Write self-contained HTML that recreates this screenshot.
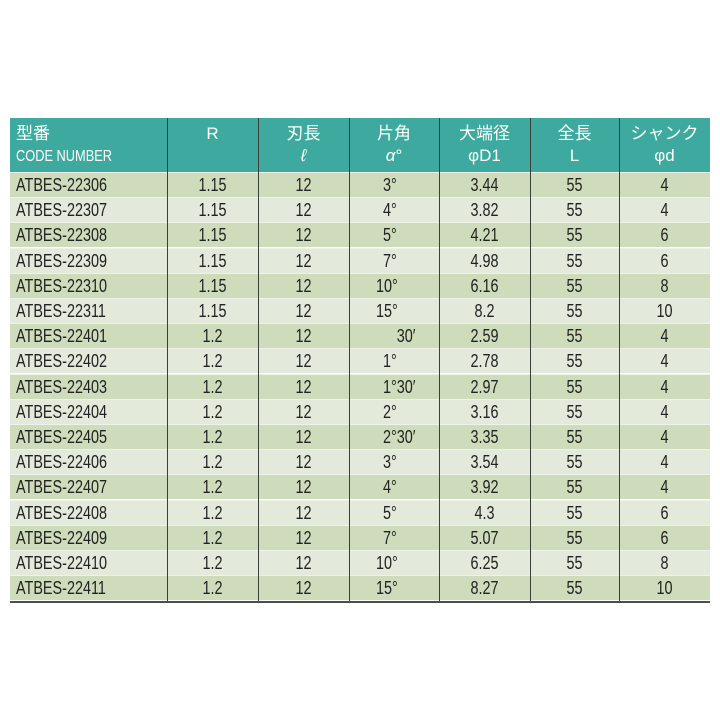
<!DOCTYPE html>
<html><head><meta charset="utf-8"><style>
body{margin:0;width:720px;height:720px;background:#fff;position:relative;overflow:hidden;font-family:"Liberation Sans","Noto Sans CJK JP",sans-serif}
.hdr{position:absolute;left:10px;top:118px;width:700px;height:54px;background:#3ea99f}
.row{position:absolute;left:10px;width:700px;height:25px}
.vl{position:absolute;top:118px;height:484px;width:1px;background:#3a3f38}
.t{position:absolute;font-size:18px;line-height:20px;color:#222;white-space:nowrap;transform:scaleX(0.8);transform-origin:center}
.l{transform-origin:left}
.h{position:absolute;color:#fff;font-size:17px;text-align:center;white-space:nowrap}
</style></head><body>
<div class="hdr"></div>
<div id="rows"></div>
<div class="vl" style="left:167px"></div>
<div class="vl" style="left:258px"></div>
<div class="vl" style="left:349px"></div>
<div class="vl" style="left:439px"></div>
<div class="vl" style="left:530px"></div>
<div class="vl" style="left:619px"></div>
<div style="position:absolute;left:10px;top:601px;width:700px;height:2px;background:#4a5046"></div>
<div class="h" style="left:16px;top:123px;text-align:left;line-height:22px">型番<br><span style="display:inline-block;transform:scaleX(.8);transform-origin:left;font-size:16px">CODE NUMBER</span></div>
<div class="h" style="left:167px;width:91px;top:123px;line-height:22px">R</div>
<div class="h" style="left:258px;width:91px;top:123px;line-height:22px">刃長<br><i>ℓ</i></div>
<div class="h" style="left:349px;width:90px;top:123px;line-height:22px">片角<br><i>α</i>°</div>
<div class="h" style="left:439px;width:91px;top:123px;line-height:22px">大端径<br>φD1</div>
<div class="h" style="left:530px;width:89px;top:123px;line-height:22px">全長<br>L</div>
<div class="h" style="left:619px;width:91px;top:123px;line-height:22px">シャンク<br>φd</div>
<script>
var d=[["22306","1.15","3","","3.44","4"],["22307","1.15","4","","3.82","4"],["22308","1.15","5","","4.21","6"],["22309","1.15","7","","4.98","6"],["22310","1.15","10","","6.16","8"],["22311","1.15","15","","8.2","10"],
["22401","1.2","","30′","2.59","4"],["22402","1.2","1","","2.78","4"],["22403","1.2","1","30′","2.97","4"],["22404","1.2","2","","3.16","4"],["22405","1.2","2","30′","3.35","4"],["22406","1.2","3","","3.54","4"],["22407","1.2","4","","3.92","4"],["22408","1.2","5","","4.3","6"],["22409","1.2","7","","5.07","6"],["22410","1.2","10","","6.25","8"],["22411","1.2","15","","8.27","10"]];
var h="";
function c(x,w,y,s){return '<div class="t" style="left:'+x+'px;width:'+w+'px;text-align:center;top:'+y+'px">'+s+'</div>';}
for(var i=0;i<d.length;i++){var r=d[i],y=172+i*25.2;
h+='<div class="row" style="top:'+y+'px;background:'+(i%2?'#e3eadb':'#cfdcbc')+';border-top:1px solid #eef2e8;box-sizing:border-box"></div>';
var ty=y+3;
h+='<div class="t l" style="left:16px;top:'+ty+'px">ATBES-'+r[0]+'</div>';
h+=c(167,91,ty,r[1]);h+=c(258,91,ty,"12");
var a=(r[2]?r[2]+'°':'<span style="visibility:hidden">0°</span>')+r[3];
h+='<div class="t l" style="left:'+(r[2].length>1?376:383)+'px;top:'+ty+'px">'+a+'</div>';
h+=c(439,91,ty,r[4]);h+=c(530,89,ty,"55");h+=c(619,91,ty,r[5]);}
document.getElementById("rows").innerHTML=h;
</script>
</body></html>
